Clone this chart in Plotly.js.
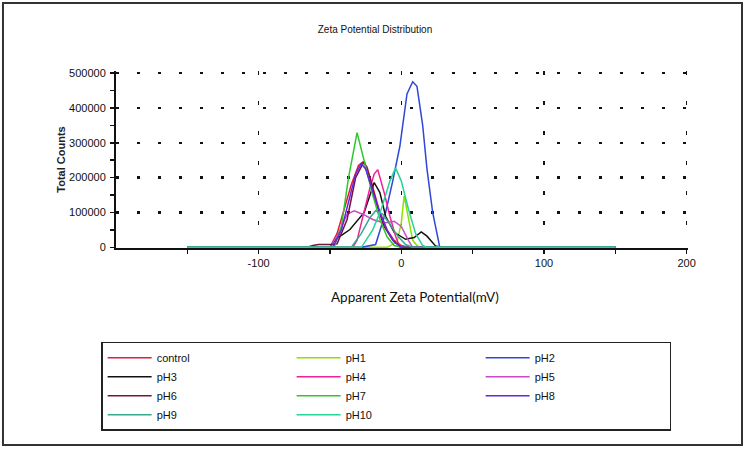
<!DOCTYPE html>
<html>
<head>
<meta charset="utf-8">
<script src="https://cdn.plot.ly/plotly-3.0.1.min.js"></script>
<style>html,body{margin:0;padding:0;background:#fff;}#chart{width:747px;height:449px;}</style>
</head>
<body>
<div id="chart"></div>
<script>
// Series names and colours (legend order)
const seriesNames = ["control","pH1","pH2","pH3","pH4","pH5","pH6","pH7","pH8","pH9","pH10"];
const seriesColors = ["#e8183a","#8ee000","#2e48d8","#111111","#f0209a","#c84ac8","#7a1040","#2ec82e","#6428e0","#3aa88c","#28d494"];

// Apparent zeta potential (mV) and total counts
const xControl = [-150,-50,-45,-40,-35,-30,-27,-24,-20,-15,-10,-5,0,5,150];
const yControl = [0,0,40000,110000,180000,235000,245000,230000,170000,100000,50000,20000,5000,0,0];

const xPH1 = [-150,-10,-3,0,2,5,8,12,150];
const yPH1 = [0,0,15000,70000,148000,80000,20000,0,0];

const xPH2 = [-150,-28,-18,-11,-6,-1,4,8,11,15,18,22,27,150];
const yPH2 = [0,0,8000,100000,190000,290000,440000,475000,462000,350000,225000,100000,0,0];

const xPH3 = [-150,-50,-46,-36,-26,-21,-19,-15,-11,-5,3,9,14,18,24,28,150];
const yPH3 = [0,0,23000,51000,100000,157000,186000,157000,89000,43000,23000,28000,44000,32000,4000,0,0];

const xPH4 = [-150,-34,-31,-27,-22,-19,-16.5,-12,-8,-4,-1,150];
const yPH4 = [0,0,20000,90000,170000,210000,223000,157000,89000,32000,0,0];

const xPH5 = [-150,-50,-44,-38,-33,-27,-20,-12,-5,0,5,8,150];
const yPH5 = [0,0,40000,95000,105000,95000,80000,70000,75000,60000,20000,0,0];

const xPH6 = [-150,-66,-62,-58,-48,-45,-38,-32,-26,-22,-17,-12,-6,0,150];
const yPH6 = [0,0,5000,8000,8000,10000,80000,200000,247000,200000,120000,60000,20000,0,0];

const xPH7 = [-150,-47,-42,-37,-31,-26,-20,-15,-10,-5,0,150];
const yPH7 = [0,0,60000,200000,329000,250000,150000,80000,30000,5000,0,0];

const xPH8 = [-150,-48,-42,-37,-32,-28,-25,-20,-15,-10,-5,0,150];
const yPH8 = [0,0,50000,130000,210000,240000,225000,160000,100000,50000,15000,0,0];

const xPH9 = [-150,-35,-28,-22,-18,-13,-7,-2,3,8,150];
const yPH9 = [0,0,40000,85000,105000,95000,60000,30000,8000,0,0];

const xPH10 = [-150,-28,-20,-14,-8,-4,0,5,10,15,18,150];
const yPH10 = [0,0,50000,110000,190000,228000,190000,110000,40000,5000,0,0];

const xs = [xControl,xPH1,xPH2,xPH3,xPH4,xPH5,xPH6,xPH7,xPH8,xPH9,xPH10];
const ys = [yControl,yPH1,yPH2,yPH3,yPH4,yPH5,yPH6,yPH7,yPH8,yPH9,yPH10];

const xTickVals = [-100,0,100,200];
const xTickText = ["-100","0","100","200"];
const yTickVals = [0,100000,200000,300000,400000,500000];
const yTickText = ["0","100000","200000","300000","400000","500000"];

const traces = seriesNames.map((n,i)=>({
  type:'scatter', mode:'lines', name:n, x:xs[i], y:ys[i],
  line:{color:seriesColors[i], width:1.5}
}));

const axFont = {family:"Liberation Sans, Arial, sans-serif", size:11, color:"#111"};

const layout = {
  width:747, height:449,
  margin:{l:116, r:59, t:71, b:201},
  paper_bgcolor:"#fff", plot_bgcolor:"#fff",
  showlegend:true,
  title:{text:"Zeta Potential Distribution", x:0.502, xanchor:"center", y:0.935, yanchor:"middle",
         font:{family:"Liberation Sans, Arial, sans-serif", size:10, color:"#111"}},
  xaxis:{range:[-200,201], tickmode:"array", tickvals:xTickVals, ticktext:xTickText,
         showline:true, linecolor:"#111", linewidth:1.5, layer:"below traces",
         ticks:"outside", ticklen:4, tickcolor:"#111", tickwidth:1.5,
         minor:{tickvals:[-150,-50,50,150], ticks:"outside", ticklen:4, tickcolor:"#111", showgrid:false},
         showgrid:true, gridcolor:"#111", gridwidth:1.5, griddash:"4px,26px",
         zeroline:false, tickfont:axFont, fixedrange:true},
  yaxis:{range:[-2000,506000], tickmode:"array", tickvals:yTickVals, ticktext:yTickText,
         showline:true, linecolor:"#111", linewidth:2, layer:"below traces",
         ticks:"outside", ticklen:4, tickcolor:"#111", tickwidth:1.5,
         minor:{dtick:50000, ticks:"outside", ticklen:4, tickcolor:"#111", showgrid:false},
         showgrid:true, gridcolor:"#111", gridwidth:2.5, griddash:"3px,18px",
         zeroline:false, tickfont:axFont, ticklabelstandoff:2,
         title:{text:"<b>Total Counts</b>", standoff:1, font:{family:"Liberation Sans, Arial, sans-serif", size:11, color:"#222"}}},
  legend:{orientation:"h", x:-0.026, xanchor:"left", y:-0.53, yanchor:"top",
          bordercolor:"#222", borderwidth:1.5, bgcolor:"#fff",
          entrywidth:130, itemwidth:44, traceorder:"normal",
          font:{family:"Liberation Sans, Arial, sans-serif", size:11, color:"#111"}},
  annotations:[{xref:"paper", yref:"paper", x:0.5225, y:-0.278, xanchor:"center", yanchor:"middle",
                text:"Apparent Zeta Potential(mV)", showarrow:false,
                font:{family:"Lato, Open Sans, sans-serif", size:13.5, color:"#111"}}],
  shapes:[{type:"rect", xref:"paper", yref:"paper", x0:-0.1976, x1:1.0944, y0:-1.113, y1:1.384,
           line:{color:"#333", width:2}, layer:"above"}]
};

Plotly.newPlot("chart", traces, layout, {displayModeBar:false, staticPlot:true});
</script>
</body>
</html>
